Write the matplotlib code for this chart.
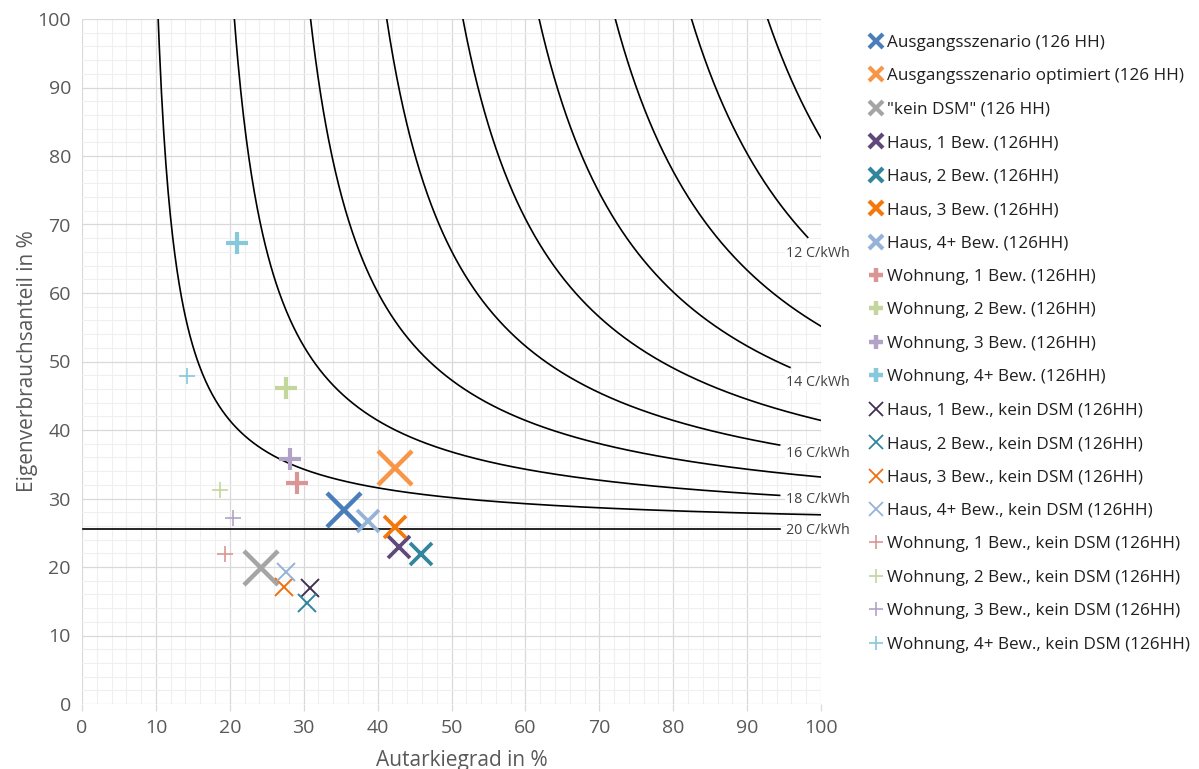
import numpy as np
import matplotlib
matplotlib.use("Agg")
import matplotlib.pyplot as plt
from matplotlib.lines import Line2D
from matplotlib.ticker import MultipleLocator

plt.rcParams['font.family'] = ['Open Sans', 'DejaVu Sans']

# ---------------- data ----------------
labels = [
    'Ausgangsszenario (126 HH)',
    'Ausgangsszenario optimiert (126 HH)',
    '"kein DSM" (126 HH)',
    'Haus, 1 Bew. (126HH)',
    'Haus, 2 Bew. (126HH)',
    'Haus, 3 Bew. (126HH)',
    'Haus, 4+ Bew. (126HH)',
    'Wohnung, 1 Bew. (126HH)',
    'Wohnung, 2 Bew. (126HH)',
    'Wohnung, 3 Bew. (126HH)',
    'Wohnung, 4+ Bew. (126HH)',
    'Haus, 1 Bew., kein DSM (126HH)',
    'Haus, 2 Bew., kein DSM (126HH)',
    'Haus, 3 Bew., kein DSM (126HH)',
    'Haus, 4+ Bew., kein DSM (126HH)',
    'Wohnung, 1 Bew., kein DSM (126HH)',
    'Wohnung, 2 Bew., kein DSM (126HH)',
    'Wohnung, 3 Bew., kein DSM (126HH)',
    'Wohnung, 4+ Bew., kein DSM (126HH)',
]
autarkie = [35.4, 42.4, 24.2, 42.9, 45.9, 42.4, 38.7, 29.1, 27.6, 28.1, 21.0,
            30.9, 30.5, 27.4, 27.6, 19.4, 18.7, 20.5, 14.2]
eigenverbrauch = [28.3, 34.5, 19.9, 22.9, 21.9, 25.8, 26.7, 32.2, 46.1, 35.8, 67.3,
                  16.9, 14.8, 17.1, 19.3, 21.9, 31.2, 27.1, 47.9]
colors = ['#4A7EBB', '#F79646', '#A5A5A5', '#5F497A', '#31859C', '#F5780A', '#95B3D7',
          '#D99694', '#C3D69B', '#B3A2C7', '#86C8DC',
          '#403152', '#31859C', '#F07010', '#95B3D7',
          '#D99694', '#C3D69B', '#B3A2C7', '#86C8DC']
kinds = (['xbig'] * 3 + ['xmed'] * 4 + ['pbig'] * 4 + ['xthin'] * 4 + ['pthin'] * 4)
styles = {
    'xbig':  ('x', 24.5, 3.2, 9.5, 3.0),
    'xmed':  ('x', 16.0, 2.7, 9.5, 3.0),
    'xthin': ('x', 12.5, 1.4, 9.5, 1.3),
    'pbig':  ('+', 16.5, 3.0, 9.5, 3.2),
    'pthin': ('+', 11.0, 1.2, 9.5, 1.2),
}

# iso-cost curves (cost model, C/kWh)
cost_levels = [11, 12, 13, 14, 15, 16, 17, 18, 19, 20]
labelled_levels = [12, 14, 16, 18, 20]
labelled_ends = [98.2, 95.8, 94.4, 94.4, 94.4]
label_y = [65.8, 47.0, 36.5, 29.8, 25.4]
grid_price = 20.0
feed_in = 6.98
pv_cost = 10.30

x_ticks = list(range(0, 101, 10))
y_ticks = list(range(0, 101, 10))

# ---------------- figure ----------------
fig = plt.figure(figsize=(11.99, 7.69), dpi=100)
ax = fig.add_axes([82 / 1199, 1 - 704 / 769, (821 - 82) / 1199, (704 - 19) / 769])
ax.set_xlim(0, 100)
ax.set_ylim(0, 100)
ax.set_xticks(x_ticks)
ax.set_yticks(y_ticks)
ax.xaxis.set_minor_locator(MultipleLocator(2))
ax.yaxis.set_minor_locator(MultipleLocator(2))
ax.grid(which='major', color='#D9D9D9', lw=0.9)
ax.grid(which='minor', color='#EFEFEF', lw=0.8)
ax.set_axisbelow(True)
for s in ax.spines.values():
    s.set_visible(False)
ax.tick_params(axis='x', which='major', length=5, color='#D9D9D9', width=0.9,
               labelsize=14, labelcolor='#595959', pad=6)
ax.tick_params(axis='y', which='major', length=0, labelsize=14, labelcolor='#595959', pad=8)
ax.tick_params(which='minor', length=0)

K = pv_cost - feed_in
d = grid_price - feed_in
for c in cost_levels:
    a_start = (grid_price - c) / (d - K)
    a_end = labelled_ends[labelled_levels.index(c)] / 100 if c in labelled_levels else 1.0
    A = np.linspace(a_start, a_end, 600)
    E = A * K / (A * d - (grid_price - c))
    ax.plot(A * 100, E * 100, color='black', lw=1.2, zorder=2)

for c, yv in zip(labelled_levels, label_y):
    ax.text(95.3, yv, f'{c} C/kWh', fontsize=10.3, color='#404040', ha='left', va='center',
            bbox=dict(facecolor='white', edgecolor='none', pad=1.0), zorder=3, clip_on=False)

handles = []
for lab, xa, ye, col, k in zip(labels, autarkie, eigenverbrauch, colors, kinds):
    m, ms, mew, lms, lmew = styles[k]
    ax.plot([xa], [ye], linestyle='none', marker=m, ms=ms, mew=mew, color=col, zorder=4)
    handles.append(Line2D([], [], linestyle='none', marker=m, ms=lms, mew=lmew, color=col))

fig.legend(handles=handles, labels=labels, loc='upper left',
           bbox_to_anchor=(868 / 1199, 1 - 35 / 769), frameon=False,
           fontsize=12.3, handlelength=0.93, handletextpad=0.2, labelspacing=1.02,
           borderpad=0, borderaxespad=0, labelcolor='#1F1F1F')

ax.set_xlabel('Autarkiegrad in %', fontsize=15, color='#595959')
ax.set_ylabel('Eigenverbrauchsanteil in %', fontsize=15, color='#595959')
ax.xaxis.set_label_coords((462 - 82) / 739, (704 - 750) / 685)
ax.yaxis.set_label_coords((38 - 82) / 739, 0.5)

fig.savefig('out.png', dpi=100)
